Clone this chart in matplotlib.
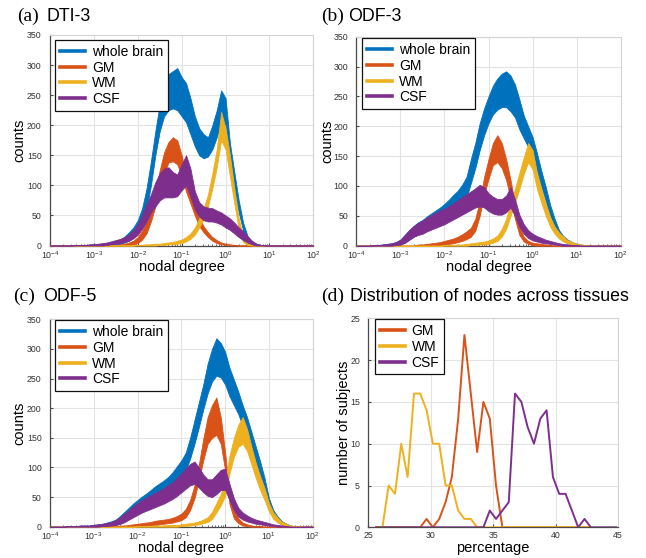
import numpy as np
import matplotlib
matplotlib.use('Agg')
import matplotlib.pyplot as plt
from matplotlib.lines import Line2D

plt.rcParams['font.family'] = ['Liberation Sans', 'DejaVu Sans']
plt.rcParams['mathtext.default'] = 'regular'

# ---------------- data ----------------
SERIES = ['whole brain', 'GM', 'WM', 'CSF']
COLORS = {'whole brain': '#0072BD', 'GM': '#D95319', 'WM': '#EDB120', 'CSF': '#7E2F8E'}

# histogram bin positions: log10(nodal degree), -4.0 .. 2.0 in steps of 0.1
LOGX = np.round(np.arange(-4.0, 2.05, 0.1), 1)

# each histogram is shown as a noisy band: lower / upper envelope of counts
# ---- (a) DTI-3 ----
A_WB_HI = [0, 0, 0, 0, 0, 1, 1, 1, 1, 1,
           2, 2, 3, 4, 6, 8, 10, 15, 22, 30,
           42, 62, 95, 140, 190, 235, 265, 285, 290, 295,
           280, 270, 245, 215, 195, 185, 180, 200, 225, 258,
           245, 170, 122, 75, 38, 16, 7, 3, 1, 0,
           0, 0, 0, 0, 0, 0, 0, 0, 0, 0, 0]
A_WB_LO = [0, 0, 0, 0, 0, 0, 0, 0, 0, 0,
           0, 0, 0, 0, 1, 2, 3, 5, 8, 14,
           22, 35, 60, 100, 150, 190, 215, 225, 228, 225,
           215, 205, 185, 165, 150, 145, 148, 160, 180, 205,
           200, 135, 95, 55, 25, 9, 3, 1, 0, 0,
           0, 0, 0, 0, 0, 0, 0, 0, 0, 0, 0]
A_GM_HI = [0, 0, 0, 0, 0, 0, 0, 0, 0, 0,
           0, 0, 0, 0, 0, 0, 2, 3, 5, 8,
           14, 25, 40, 60, 90, 125, 155, 172, 180, 175,
           150, 115, 90, 65, 45, 32, 22, 14, 9, 5,
           3, 2, 1, 0, 0, 0, 0, 0, 0, 0,
           0, 0, 0, 0, 0, 0, 0, 0, 0, 0, 0]
A_GM_LO = [0, 0, 0, 0, 0, 0, 0, 0, 0, 0,
           0, 0, 0, 0, 0, 0, 0, 0, 1, 2,
           4, 10, 20, 40, 65, 95, 120, 138, 140, 135,
           115, 90, 70, 50, 32, 22, 14, 8, 4, 2,
           1, 0, 0, 0, 0, 0, 0, 0, 0, 0,
           0, 0, 0, 0, 0, 0, 0, 0, 0, 0, 0]
A_WM_HI = [0, 0, 0, 0, 0, 0, 0, 0, 0, 0,
           0, 0, 0, 0, 0, 0, 0, 0, 0, 0,
           1, 1, 2, 2, 3, 3, 4, 5, 6, 8,
           10, 14, 20, 30, 45, 62, 85, 120, 160, 222,
           195, 150, 95, 45, 15, 5, 1, 0, 0, 0,
           0, 0, 0, 0, 0, 0, 0, 0, 0, 0, 0]
A_WM_LO = [0, 0, 0, 0, 0, 0, 0, 0, 0, 0,
           0, 0, 0, 0, 0, 0, 0, 0, 0, 0,
           0, 0, 0, 0, 0, 1, 1, 2, 2, 3,
           4, 7, 11, 18, 30, 44, 65, 95, 130, 175,
           160, 115, 70, 28, 6, 1, 0, 0, 0, 0,
           0, 0, 0, 0, 0, 0, 0, 0, 0, 0, 0]
A_CSF_HI = [0, 0, 0, 0, 0, 0, 1, 1, 1, 2,
            2, 3, 4, 5, 7, 9, 11, 14, 18, 25,
            35, 50, 68, 85, 105, 120, 128, 130, 122, 118,
            135, 150, 128, 90, 72, 65, 63, 62, 58, 55,
            50, 45, 38, 30, 24, 15, 8, 3, 1, 0,
            0, 0, 0, 0, 0, 0, 0, 0, 0, 0, 0]
A_CSF_LO = [0, 0, 0, 0, 0, 0, 0, 0, 0, 0,
            0, 0, 0, 1, 2, 3, 4, 6, 8, 12,
            18, 28, 40, 55, 65, 75, 80, 80, 80, 82,
            92, 100, 82, 60, 48, 42, 40, 40, 38, 35,
            30, 26, 20, 14, 9, 5, 2, 0, 0, 0,
            0, 0, 0, 0, 0, 0, 0, 0, 0, 0, 0]

# ---- (b) ODF-3 ----
B_WB_HI = [0, 0, 0, 0, 1, 1, 2, 3, 4, 6,
           10, 18, 26, 33, 39, 43, 49, 54, 59, 64,
           70, 77, 85, 92, 102, 115, 145, 172, 205, 230,
           250, 268, 280, 288, 292, 285, 270, 245, 218, 200,
           182, 155, 125, 98, 68, 45, 26, 16, 10, 6,
           3, 2, 1, 0, 0, 0, 0, 0, 0, 0, 0]
B_WB_LO = [0, 0, 0, 0, 0, 0, 0, 0, 0, 1,
           2, 5, 10, 15, 19, 21, 25, 29, 33, 37,
           41, 46, 52, 57, 64, 80, 105, 130, 160, 185,
           205, 220, 228, 232, 232, 225, 215, 195, 180, 165,
           150, 125, 98, 74, 48, 30, 15, 8, 4, 2,
           1, 0, 0, 0, 0, 0, 0, 0, 0, 0, 0]
B_GM_HI = [0, 0, 0, 0, 0, 0, 0, 0, 0, 0,
           0, 0, 0, 0, 2, 2, 3, 4, 5, 6,
           8, 10, 12, 15, 19, 24, 30, 45, 75, 115,
           145, 172, 185, 172, 145, 110, 70, 32, 15, 8,
           5, 4, 3, 2, 1, 0, 0, 0, 0, 0,
           0, 0, 0, 0, 0, 0, 0, 0, 0, 0, 0]
B_GM_LO = [0, 0, 0, 0, 0, 0, 0, 0, 0, 0,
           0, 0, 0, 0, 0, 0, 0, 0, 1, 1,
           2, 3, 4, 6, 8, 11, 15, 25, 50, 85,
           112, 135, 140, 130, 110, 80, 45, 18, 7, 3,
           1, 0, 0, 0, 0, 0, 0, 0, 0, 0,
           0, 0, 0, 0, 0, 0, 0, 0, 0, 0, 0]
B_WM_HI = [0, 0, 0, 0, 0, 0, 0, 0, 0, 0,
           0, 0, 0, 0, 0, 0, 0, 0, 0, 0,
           1, 1, 1, 2, 2, 3, 4, 5, 6, 7,
           9, 12, 17, 28, 45, 70, 95, 122, 148, 172,
           160, 122, 95, 70, 48, 32, 22, 15, 9, 6,
           3, 2, 1, 0, 0, 0, 0, 0, 0, 0, 0]
B_WM_LO = [0, 0, 0, 0, 0, 0, 0, 0, 0, 0,
           0, 0, 0, 0, 0, 0, 0, 0, 0, 0,
           0, 0, 0, 0, 0, 0, 1, 1, 2, 2,
           3, 5, 8, 15, 28, 50, 72, 95, 120, 140,
           128, 95, 72, 50, 32, 20, 12, 7, 4, 2,
           1, 0, 0, 0, 0, 0, 0, 0, 0, 0, 0]
B_CSF_HI = [0, 0, 0, 0, 1, 1, 2, 3, 4, 6,
            10, 18, 26, 33, 38, 42, 47, 51, 55, 59,
            62, 66, 71, 76, 81, 86, 91, 96, 102, 98,
            88, 82, 78, 78, 84, 98, 78, 52, 36, 26,
            20, 16, 13, 10, 8, 6, 4, 3, 2, 1,
            1, 0, 0, 0, 0, 0, 0, 0, 0, 0, 0]
B_CSF_LO = [0, 0, 0, 0, 0, 0, 0, 0, 0, 1,
            2, 5, 10, 15, 18, 20, 24, 27, 30, 33,
            36, 40, 44, 48, 52, 56, 60, 64, 66, 64,
            58, 54, 52, 52, 56, 64, 50, 32, 20, 13,
            9, 7, 5, 4, 3, 2, 1, 0, 0, 0,
            0, 0, 0, 0, 0, 0, 0, 0, 0, 0, 0]

# ---- (c) ODF-5 ----
C_WB_HI = [0, 0, 0, 0, 1, 1, 1, 2, 2, 2,
           3, 4, 5, 7, 9, 12, 18, 25, 32, 39,
           45, 51, 56, 62, 68, 73, 78, 84, 92, 102,
           112, 125, 150, 180, 210, 240, 275, 300, 318, 310,
           295, 268, 248, 228, 205, 185, 160, 135, 110, 82,
           48, 28, 17, 9, 5, 2, 1, 1, 0, 0, 0]
C_WB_LO = [0, 0, 0, 0, 0, 0, 0, 0, 0, 0,
           0, 0, 1, 1, 2, 3, 5, 8, 13, 18,
           22, 26, 30, 34, 38, 44, 50, 56, 62, 70,
           80, 95, 115, 140, 168, 198, 225, 245, 255, 252,
           240, 220, 205, 190, 170, 150, 125, 105, 82, 60,
           32, 16, 8, 3, 1, 0, 0, 0, 0, 0, 0]
C_GM_HI = [0, 0, 0, 0, 0, 0, 0, 0, 0, 0,
           0, 0, 0, 0, 1, 1, 2, 2, 3, 4,
           5, 6, 7, 8, 10, 11, 12, 13, 15, 18,
           22, 30, 45, 70, 105, 148, 185, 205, 218, 185,
           125, 55, 28, 14, 7, 4, 2, 1, 1, 0,
           0, 0, 0, 0, 0, 0, 0, 0, 0, 0, 0]
C_GM_LO = [0, 0, 0, 0, 0, 0, 0, 0, 0, 0,
           0, 0, 0, 0, 0, 0, 0, 0, 0, 1,
           1, 2, 2, 3, 3, 4, 5, 6, 7, 9,
           11, 16, 28, 48, 78, 112, 140, 150, 155, 140,
           95, 38, 14, 6, 2, 1, 0, 0, 0, 0,
           0, 0, 0, 0, 0, 0, 0, 0, 0, 0, 0]
C_WM_HI = [0, 0, 0, 0, 0, 0, 0, 0, 0, 0,
           0, 0, 0, 0, 0, 0, 0, 0, 0, 0,
           1, 1, 1, 1, 2, 2, 2, 3, 3, 3,
           4, 5, 6, 7, 9, 12, 16, 25, 40, 55,
           75, 120, 150, 172, 185, 165, 135, 108, 85, 65,
           40, 24, 15, 8, 5, 2, 1, 1, 0, 0, 0]
C_WM_LO = [0, 0, 0, 0, 0, 0, 0, 0, 0, 0,
           0, 0, 0, 0, 0, 0, 0, 0, 0, 0,
           0, 0, 0, 0, 0, 0, 0, 0, 0, 0,
           1, 1, 2, 3, 4, 6, 8, 13, 24, 36,
           52, 90, 118, 135, 140, 128, 105, 82, 62, 45,
           26, 13, 7, 3, 1, 0, 0, 0, 0, 0, 0]
C_CSF_HI = [0, 0, 0, 0, 1, 1, 1, 2, 2, 2,
            3, 4, 5, 6, 8, 11, 16, 22, 28, 34,
            40, 45, 49, 53, 57, 61, 65, 70, 75, 82,
            90, 98, 106, 110, 100, 88, 80, 80, 88, 96,
            98, 72, 48, 32, 24, 19, 15, 12, 10, 8,
            6, 4, 3, 2, 1, 0, 0, 0, 0, 0, 0]
C_CSF_LO = [0, 0, 0, 0, 0, 0, 0, 0, 0, 0,
            0, 0, 1, 1, 2, 3, 5, 8, 12, 16,
            20, 24, 27, 30, 33, 36, 39, 43, 47, 52,
            58, 64, 70, 72, 66, 58, 52, 50, 55, 62,
            62, 45, 28, 17, 12, 9, 7, 5, 4, 3,
            2, 1, 0, 0, 0, 0, 0, 0, 0, 0, 0]

# ---- (d) distribution of nodes across tissues ----
D_X = [25.62, 26.13, 26.63, 27.14, 27.64, 28.15, 28.66, 29.16, 29.67, 30.17,
       30.68, 31.19, 31.69, 32.20, 32.70, 33.21, 33.72, 34.22, 34.73, 35.23,
       35.74, 36.25, 36.75, 37.26, 37.76, 38.27, 38.78, 39.28, 39.79, 40.29,
       40.80, 41.31, 41.81, 42.32, 42.82, 43.33, 43.83, 44.34, 44.85]
D_GM = [0, 0, 0, 0, 0, 0, 0, 0, 1, 0,
        1, 3, 6, 13, 23, 16, 9, 15, 13, 5,
        0, 0, 0, 0, 0, 0, 0, 0, 0, 0,
        0, 0, 0, 0, 0]
D_WM = [0, 0, 5, 4, 10, 6, 16, 16, 14, 10,
        10, 5, 5, 2, 1, 1, 0, 0, 0, 0,
        0, 0, 0, 0, 0, 0, 0, 0, 0, 0,
        0, 0, 0, 0, 0]
D_CSF = [0, 0, 0, 0, 0, 0, 0, 0, 0, 0,
         0, 0, 0, 0, 0, 0, 0, 0, 2, 1,
         2, 3, 16, 15, 12, 10, 13, 14, 6, 4,
         4, 2, 0, 1, 0, 0, 0, 0, 0]

HIST_PANELS = [
    ('(a)', 'DTI-3', {'whole brain': (A_WB_LO, A_WB_HI), 'GM': (A_GM_LO, A_GM_HI),
                      'WM': (A_WM_LO, A_WM_HI), 'CSF': (A_CSF_LO, A_CSF_HI)}),
    ('(b)', 'ODF-3', {'whole brain': (B_WB_LO, B_WB_HI), 'GM': (B_GM_LO, B_GM_HI),
                      'WM': (B_WM_LO, B_WM_HI), 'CSF': (B_CSF_LO, B_CSF_HI)}),
    ('(c)', 'ODF-5', {'whole brain': (C_WB_LO, C_WB_HI), 'GM': (C_GM_LO, C_GM_HI),
                      'WM': (C_WM_LO, C_WM_HI), 'CSF': (C_CSF_LO, C_CSF_HI)}),
]

# ---------------- layout ----------------
W, H = 646, 558
fig = plt.figure(figsize=(W / 100, H / 100), dpi=100)
fig.patch.set_facecolor('white')


def px_axes(left, top, right, bottom):
    return fig.add_axes([left / W, 1 - bottom / H, (right - left) / W, (bottom - top) / H])


AX_BOXES = [(50, 35, 313.3, 245.5), (356.3, 36.7, 620.7, 245.7),
            (50, 319.3, 312.7, 526.7), (368.3, 318.3, 618, 527.3)]
LEG_ANCHOR = [(0.019, 0.976), (0.023, 0.992), (0.019, 0.995), (0.026, 0.995)]
YLAB_X = [-0.089, -0.082, -0.089, -0.071]
XLAB_Y = [-0.07, -0.068, -0.07, -0.064]
TITLE_POS = [(17, 46.7, 20.7), (321, 348, 20.7), (13.3, 42.7, 300.7), (321, 349.7, 300.7)]

AX_DARK = '#4a4a4a'
GRID = '#e3e3e3'


def style(ax):
    for s in ['left', 'bottom']:
        ax.spines[s].set_color(AX_DARK)
        ax.spines[s].set_linewidth(0.9)
    for s in ['top', 'right']:
        ax.spines[s].set_color('#d4d4d4')
        ax.spines[s].set_linewidth(0.8)
    ax.grid(True, which='major', color=GRID, lw=0.8)
    ax.set_axisbelow(True)
    ax.tick_params(which='both', direction='in', labelsize=6.3, colors=AX_DARK,
                   labelcolor='#333333')
    ax.tick_params(axis='x', which='both', pad=2.5)
    ax.tick_params(axis='y', which='both', pad=6)
    ax.tick_params(which='major', length=2.5)
    ax.tick_params(which='minor', length=1.5)


def legend(ax, names, anchor, colors):
    handles = [Line2D([0], [0], color=colors[n], lw=2.6) for n in names]
    leg = ax.legend(handles, names, loc='upper left', bbox_to_anchor=anchor,
                    borderaxespad=0, fontsize=10, frameon=True, fancybox=False,
                    framealpha=1, edgecolor='#111111', handlelength=1.8,
                    handletextpad=0.5, labelspacing=0.12, borderpad=0.35)
    leg.get_frame().set_linewidth(0.9)


x_hist = 10.0 ** LOGX
for k, (tag, name, bands) in enumerate(HIST_PANELS):
    ax = px_axes(*AX_BOXES[k])
    style(ax)
    for s in SERIES:
        lo, hi = bands[s]
        ax.fill_between(x_hist, lo, hi, facecolor=COLORS[s], edgecolor=COLORS[s],
                        lw=0.6, zorder=3)
    ax.set_xscale('log')
    ax.set_xlim(1e-4, 1e2)
    ax.set_ylim(0, 350)
    ax.set_xticks(10.0 ** np.arange(-4, 3))
    ax.set_yticks(np.arange(0, 351, 50))
    ax.set_xlabel('nodal degree', fontsize=10.5, va='top')
    ax.set_ylabel('counts', fontsize=10.5)
    ax.yaxis.set_label_coords(YLAB_X[k], 0.5)
    ax.xaxis.set_label_coords(0.5, XLAB_Y[k])
    legend(ax, SERIES, LEG_ANCHOR[k], COLORS)

# panel (d)
ax = px_axes(*AX_BOXES[3])
style(ax)
n = len(D_GM)
ax.plot(D_X[:n], D_GM, color=COLORS['GM'], lw=1.4, zorder=3)
ax.plot(D_X[:n], D_WM, color=COLORS['WM'], lw=1.4, zorder=3)
ax.plot(D_X, D_CSF, color=COLORS['CSF'], lw=1.4, zorder=3)
ax.set_xlim(25, 45)
ax.set_ylim(0, 25)
ax.set_xticks(np.arange(25, 46, 5))
ax.set_yticks(np.arange(0, 26, 5))
ax.set_xlabel('percentage', fontsize=10.5, va='top')
ax.set_ylabel('number of subjects', fontsize=10.5)
ax.yaxis.set_label_coords(YLAB_X[3], 0.5)
ax.xaxis.set_label_coords(0.5, XLAB_Y[3])
legend(ax, ['GM', 'WM', 'CSF'], LEG_ANCHOR[3], COLORS)

# panel titles
TITLES = [('(a)', 'DTI-3'), ('(b)', 'ODF-3'), ('(c)', 'ODF-5'),
          ('(d)', 'Distribution of nodes across tissues')]
for (tag, txt), (xt, xs, yb) in zip(TITLES, TITLE_POS):
    fig.text(xt / W, 1 - yb / H, tag, family=['Liberation Serif', 'DejaVu Serif'],
             fontsize=14, ha='left', va='baseline')
    fig.text(xs / W, 1 - yb / H, txt, fontsize=12.8, ha='left', va='baseline')

fig.savefig('out.png', dpi=100, facecolor='white')
